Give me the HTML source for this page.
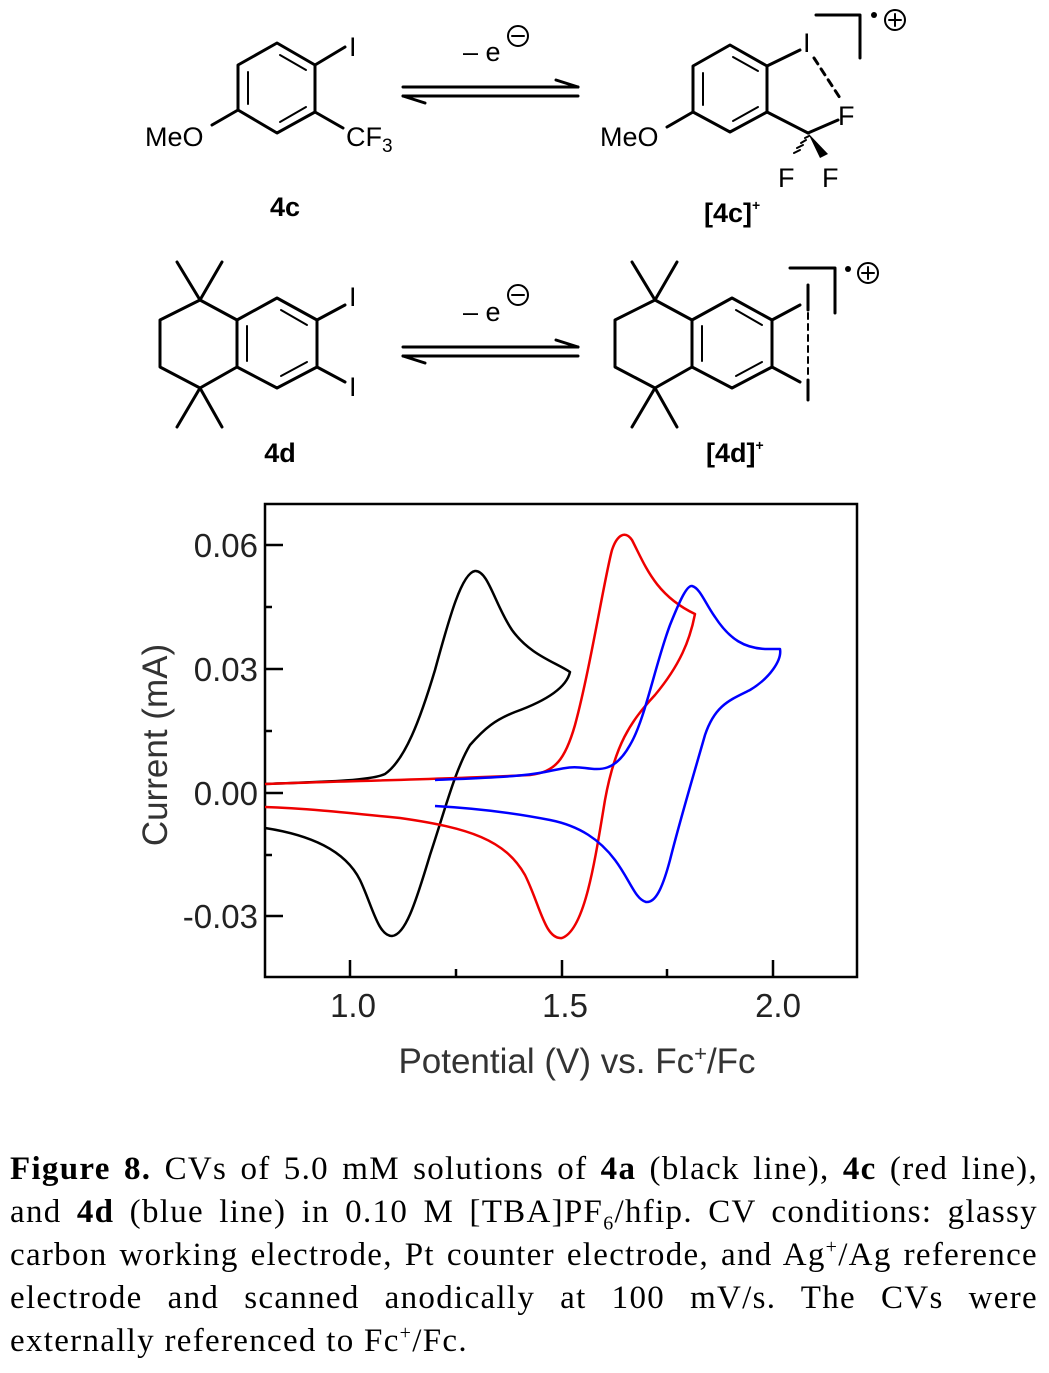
<!DOCTYPE html>
<html><head><meta charset="utf-8"><style>
html,body{margin:0;padding:0;background:#fff;}
body{width:1049px;height:1373px;position:relative;overflow:hidden;}
svg{position:absolute;left:0;top:0;}
.cap{position:absolute;left:10px;width:1028px;top:1148px;font-family:"Liberation Serif",serif;font-size:33px;letter-spacing:1.3px;line-height:43px;color:#000;}
.cap div{text-align:justify;text-align-last:justify;white-space:nowrap;height:43px;}
.cap div.last{text-align-last:left;}
sup,sub{font-size:20px;line-height:0;}
</style></head><body>
<svg width="1049" height="1373" viewBox="0 0 1049 1373" xmlns="http://www.w3.org/2000/svg">
<g fill="none" stroke="#000" stroke-width="3" stroke-linecap="round" stroke-linejoin="round">
 <polygon points="277,43 315,65 315,112 277,133 238,110 238,65"/>
 <line x1="248" y1="72" x2="248" y2="104" stroke-width="2"/>
 <line x1="280" y1="55" x2="306" y2="70" stroke-width="2"/>
 <line x1="280" y1="122" x2="306" y2="107" stroke-width="2"/>
 <line x1="315" y1="65" x2="345" y2="47"/>
 <line x1="315" y1="112" x2="343" y2="128"/>
 <line x1="238" y1="110" x2="212" y2="125"/>
 <polygon points="730,45 767,66 767,112 730,132 693,112 693,66"/>
 <line x1="703" y1="73" x2="703" y2="105" stroke-width="2"/>
 <line x1="733" y1="57" x2="758" y2="71" stroke-width="2"/>
 <line x1="733" y1="121" x2="758" y2="107" stroke-width="2"/>
 <line x1="767" y1="66" x2="800" y2="50"/>
 <line x1="693" y1="112" x2="667" y2="127"/>
 <line x1="767" y1="112" x2="808" y2="133"/>
 <line x1="808" y1="133" x2="838" y2="120"/>
 <line x1="814" y1="58" x2="840" y2="98" stroke-dasharray="7,6"/>
 <path d="M816,15 H860 V58"/>
 <g stroke-width="2"><line x1="805" y1="138" x2="809" y2="136"/><line x1="801" y1="143" x2="806" y2="140"/><line x1="797" y1="148" x2="803" y2="145"/><line x1="794" y1="153" x2="800" y2="150"/></g>
 <line x1="403" y1="87" x2="578" y2="87"/><path d="M578,87 L556,80"/>
 <line x1="403" y1="96" x2="578" y2="96"/><path d="M403,96 L425,103"/>
 <line x1="403" y1="347" x2="578" y2="347"/><path d="M578,347 L556,340"/>
 <line x1="403" y1="356" x2="578" y2="356"/><path d="M403,356 L425,363"/>
 <path d="M177,262 L200,300 L222,262 M200,300 L160,320 L160,367 L200,388 L177,427 M200,388 L222,427 M200,300 L237,320 M200,388 L237,367"/>
 <polygon points="237,320 277,298 317,320 317,367 277,388 237,367"/>
 <line x1="247" y1="326" x2="247" y2="361" stroke-width="2"/>
 <line x1="281" y1="310" x2="307" y2="325" stroke-width="2"/>
 <line x1="281" y1="376" x2="307" y2="362" stroke-width="2"/>
 <line x1="317" y1="320" x2="345" y2="305"/>
 <line x1="317" y1="367" x2="345" y2="382"/>
 <g transform="translate(455,0)">
 <path d="M177,262 L200,300 L222,262 M200,300 L160,320 L160,367 L200,388 L177,427 M200,388 L222,427 M200,300 L237,320 M200,388 L237,367"/>
 <polygon points="237,320 277,298 317,320 317,367 277,388 237,367"/>
 <line x1="247" y1="326" x2="247" y2="361" stroke-width="2"/>
 <line x1="281" y1="310" x2="307" y2="325" stroke-width="2"/>
 <line x1="281" y1="376" x2="307" y2="362" stroke-width="2"/>
 <line x1="317" y1="320" x2="345" y2="305"/>
 <line x1="317" y1="367" x2="345" y2="382"/>
 </g>
 <line x1="808" y1="285" x2="808" y2="310"/>
 <line x1="808" y1="313" x2="808" y2="378" stroke-width="2" stroke-dasharray="6,5"/>
 <line x1="808" y1="380" x2="808" y2="400"/>
 <path d="M790,268 H835 V313"/>
 <circle cx="895" cy="20" r="10" stroke-width="2"/>
 <path d="M895,14 V26 M889,20 H901" stroke-width="2"/>
 <circle cx="868" cy="273" r="10" stroke-width="2"/>
 <path d="M868,267 V279 M862,273 H874" stroke-width="2"/>
 <circle cx="518" cy="36" r="10" stroke-width="2"/>
 <path d="M512,36 H524" stroke-width="2"/>
 <circle cx="518" cy="295" r="10" stroke-width="2"/>
 <path d="M512,295 H524" stroke-width="2"/>
</g>
<polygon points="808,133 820,158 828,154" fill="#000"/>
<circle cx="874" cy="15" r="3" fill="#000"/>
<circle cx="848" cy="269" r="3" fill="#000"/>
<g font-family="Liberation Sans, sans-serif" font-size="27" fill="#000">
 <text x="349" y="56">I</text>
 <text x="145" y="146">MeO</text>
 <text x="346" y="146">CF<tspan font-size="19" dy="6">3</tspan></text>
 <text x="803" y="52">I</text>
 <text x="600" y="146">MeO</text>
 <text x="838" y="125">F</text>
 <text x="778" y="187">F</text>
 <text x="822" y="187">F</text>
 <text x="349" y="306">I</text>
 <text x="349" y="396">I</text>
 <text x="463" y="61">– e</text>
 <text x="463" y="321">– e</text>
 <g font-weight="bold">
 <text x="285" y="216" text-anchor="middle">4c</text>
 <text x="704" y="222">[4c]<tspan font-size="14" dy="-12">+</tspan></text>
 <text x="280" y="462" text-anchor="middle">4d</text>
 <text x="706" y="462">[4d]<tspan font-size="14" dy="-12">+</tspan></text>
 </g>
</g>
<g fill="none" stroke="#000" stroke-width="2.5">
 <rect x="265" y="504" width="592" height="473"/>
 <path d="M265,545 H283 M265,669 H283 M265,793 H283 M265,916 H283 M265,607 H272 M265,731 H272 M265,855 H272"/>
 <path d="M350,977 V960 M562,977 V960 M773,977 V960 M456,977 V969 M667,977 V969"/>
</g>
<g fill="none" stroke-width="2.5" stroke-linejoin="round">
 <path stroke="#000" d="M265,784 C320,782 370,781 385,774 C405,760 420,720 435,670 C450,615 462,573 475,571 C488,570 495,605 512,630 C530,655 555,662 570,672 C566,690 540,703 515,712 C495,720 485,728 470,745 C455,770 445,810 430,855 C415,905 405,935 392,936 C378,936 372,905 360,880 C345,850 310,835 265,828"/>
 <path stroke="#e00" d="M265,784 C350,781 450,779 530,775 C555,772 565,760 575,725 C590,670 605,575 612,550 C617,535 625,530 632,540 C645,565 655,595 695,614 C690,640 680,665 655,695 C630,722 615,745 605,800 C595,860 585,930 562,938 C545,940 540,905 525,875 C505,840 470,828 400,818 C340,812 300,808 265,807"/>
 <path stroke="#00f" d="M435,780 C480,778 520,777 545,772 C565,768 570,766 585,768 C600,770 615,772 630,745 C645,720 655,665 670,625 C680,600 687,585 692,586 C700,588 705,603 715,617 C730,640 745,648 765,649 L780,649 C782,660 770,678 750,690 C730,700 715,705 705,735 C695,770 680,820 670,860 C662,890 655,903 646,902 C635,899 630,880 615,860 C600,840 580,826 550,820 C510,812 470,808 435,806"/>
</g>
<g font-family="Liberation Sans, sans-serif" font-size="33" fill="#222">
 <text x="258" y="557" text-anchor="end">0.06</text>
 <text x="258" y="681" text-anchor="end">0.03</text>
 <text x="258" y="805" text-anchor="end">0.00</text>
 <text x="258" y="928" text-anchor="end">-0.03</text>
 <text x="353" y="1017" text-anchor="middle">1.0</text>
 <text x="565" y="1017" text-anchor="middle">1.5</text>
 <text x="778" y="1017" text-anchor="middle">2.0</text>
 <text x="577" y="1073" text-anchor="middle" font-size="35" fill="#333">Potential (V) vs. Fc<tspan font-size="22" dy="-12">+</tspan><tspan dy="12">/Fc</tspan></text>
 <text transform="translate(167,745) rotate(-90)" text-anchor="middle" font-size="35" fill="#333">Current (mA)</text>
</g>
</svg>
<div class="cap">
<div><b>Figure 8.</b> CVs of 5.0 mM solutions of <b>4a</b> (black line), <b>4c</b> (red line),</div>
<div>and <b>4d</b> (blue line) in 0.10 M [TBA]PF<sub>6</sub>/hfip. CV conditions: glassy</div>
<div>carbon working electrode, Pt counter electrode, and Ag<sup>+</sup>/Ag reference</div>
<div>electrode and scanned anodically at 100 mV/s. The CVs were</div>
<div class="last">externally referenced to Fc<sup>+</sup>/Fc.</div>
</div>
</body></html>
